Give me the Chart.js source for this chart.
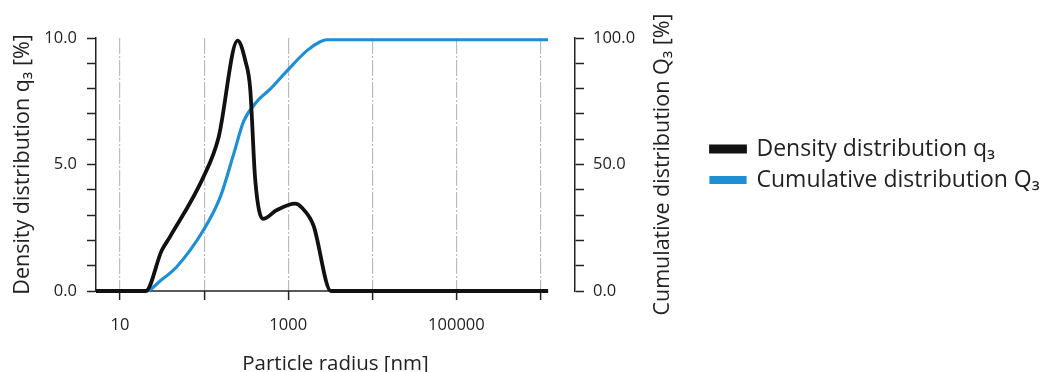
<!DOCTYPE html>
<html>
<head>
<meta charset="utf-8">
<title>Particle size distribution</title>
<script src="https://cdn.jsdelivr.net/npm/chart.js@4.4.1/dist/chart.umd.min.js"></script>
<style>
  html, body { margin: 0; padding: 0; background: #fff; }
  #wrap { width: 1043px; height: 372px; }
</style>
</head>
<body>
<div id="wrap"><canvas id="psd" width="1043" height="372"></canvas></div>
<script>
// particle radius [nm] and density distribution q3 [%]
const densityRadius = [5.18, 20.2, 31.3, 39.4, 98, 148, 250, 309, 353, 405, 500, 733, 1211, 1445, 1992, 3220, 1.23e6];
const densityQ3 = [0, 0, 1.6, 2.15, 4.5, 6.05, 9.9, 9.1, 8.0, 4.4, 2.85, 3.2, 3.45, 3.3, 2.6, 0, 0];

// particle radius [nm] and cumulative distribution Q3 [%]
const cumulativeRadius = [5.18, 20.6, 30, 47.3, 98, 155, 224, 295, 427, 618, 967, 1670, 2400, 2880, 1.23e6];
const cumulativeQ3 = [0, 0, 4, 9.6, 24, 37, 54, 67, 75, 80, 87, 95, 98.5, 99.3, 99.3];

const decadeTicks = [10, 100, 1000, 10000, 100000, 1000000];
const labelledDecades = [10, 1000, 100000];

const FONT = "'Open Sans', 'Noto Sans', sans-serif";
const TEXT = '#222';
const AXIS = '#222';
const TITLE_SIZE = 20.5;
const Y_TITLE_SIZE = 21.5;
const TICK_SIZE = 16.5;
const RIGHT_TITLE = 'Cumulative distribution Q\u2083 [%]';

const toPoints = (xs, ys) => xs.map((x, i) => ({ x, y: ys[i] }));

// x axis line stops at the last measured radius, not at the right axis
const xAxisLine = {
  id: 'xAxisLine',
  beforeDatasetsDraw(chart) {
    const { ctx, chartArea, scales } = chart;
    const xEnd = scales.x.getPixelForValue(densityRadius[densityRadius.length - 1]);
    ctx.save();
    ctx.strokeStyle = AXIS;
    ctx.lineWidth = 1.5;
    ctx.beginPath();
    ctx.moveTo(chartArea.left, chartArea.bottom);
    ctx.lineTo(xEnd, chartArea.bottom);
    ctx.stroke();
    ctx.restore();
  },
};

// right axis title reads bottom-to-top like the left one
const rightTitle = {
  id: 'rightTitle',
  afterDraw(chart) {
    const { ctx, chartArea } = chart;
    ctx.save();
    ctx.translate(chartArea.right + 88, (chartArea.top + chartArea.bottom) / 2);
    ctx.rotate(-Math.PI / 2);
    ctx.fillStyle = TEXT;
    ctx.font = `${Y_TITLE_SIZE}px ${FONT}`;
    ctx.textAlign = 'center';
    ctx.textBaseline = 'middle';
    ctx.fillText(RIGHT_TITLE, 0, 0);
    ctx.restore();
  },
};

// keep the legend centred on the plot height rather than the whole canvas
const legendOnPlot = {
  id: 'legendOnPlot',
  afterLayout(chart) {
    if (chart.legend) {
      chart.legend.top = chart.chartArea.top;
      chart.legend.bottom = chart.chartArea.bottom;
    }
  },
};

const config = {
  type: 'line',
  data: {
    datasets: [
      {
        label: 'Density distribution q\u2083',
        data: toPoints(densityRadius, densityQ3),
        yAxisID: 'y',
        borderColor: '#111',
        backgroundColor: '#111',
        borderWidth: 3.8,
        pointRadius: 0,
        cubicInterpolationMode: 'monotone',
        clip: false,
      },
      {
        label: 'Cumulative distribution Q\u2083',
        data: toPoints(cumulativeRadius, cumulativeQ3),
        yAxisID: 'y2',
        borderColor: '#1e8fd2',
        backgroundColor: '#1e8fd2',
        borderWidth: 3.2,
        pointRadius: 0,
        cubicInterpolationMode: 'monotone',
        clip: false,
      },
    ],
  },
  options: {
    responsive: false,
    animation: false,
    layout: { padding: { top: 38, right: 0, bottom: 0, left: 0 } },
    plugins: {
      tooltip: { enabled: false },
      legend: {
        position: 'right',
        align: 'center',
        maxWidth: 340,
        labels: {
          color: TEXT,
          font: { family: FONT, size: 23 },
          boxWidth: 34,
          boxHeight: 5,
          padding: 8,
        },
      },
    },
    scales: {
      x: {
        type: 'logarithmic',
        min: 5.18,
        max: 2.57e6,
        afterBuildTicks: (scale) => {
          scale.ticks = decadeTicks.map((v) => ({ value: v }));
        },
        afterFit: (scale) => {
          scale.height = 81;
        },
        border: { display: false, dash: [16, 2, 2, 2] },
        grid: {
          color: '#bdbdbd',
          lineWidth: 1.2,
          drawTicks: true,
          tickLength: 9,
          tickColor: AXIS,
          tickWidth: 1.5,
        },
        ticks: {
          autoSkip: false,
          maxRotation: 0,
          padding: 15,
          color: TEXT,
          font: { family: FONT, size: TICK_SIZE },
          callback: (v) => (labelledDecades.includes(v) ? String(v) : ''),
        },
        title: {
          display: true,
          text: 'Particle radius [nm]',
          color: TEXT,
          font: { family: FONT, size: TITLE_SIZE },
          padding: { top: 0, bottom: -4 },
        },
      },
      y: {
        position: 'left',
        min: 0,
        max: 10,
        afterFit: (scale) => {
          scale.width = 96;
        },
        border: { display: true, color: AXIS, width: 1.5 },
        grid: {
          drawOnChartArea: false,
          drawTicks: true,
          tickLength: 9,
          tickColor: AXIS,
          tickWidth: 1.5,
        },
        ticks: {
          stepSize: 1,
          autoSkip: false,
          padding: 10,
          color: TEXT,
          font: { family: FONT, size: TICK_SIZE },
          callback: (v) => (v % 5 === 0 ? v.toFixed(1) : ''),
        },
        title: {
          display: true,
          text: 'Density distribution q\u2083 [%]',
          color: TEXT,
          font: { family: FONT, size: Y_TITLE_SIZE },
          padding: { top: 10, bottom: 0 },
        },
      },
      y2: {
        position: 'right',
        min: 0,
        max: 100,
        afterFit: (scale) => {
          scale.width = 128;
        },
        border: { display: true, color: AXIS, width: 1.5 },
        grid: {
          drawOnChartArea: false,
          drawTicks: true,
          tickLength: 9,
          tickColor: AXIS,
          tickWidth: 1.5,
        },
        ticks: {
          stepSize: 10,
          autoSkip: false,
          padding: 9,
          color: TEXT,
          font: { family: FONT, size: TICK_SIZE },
          callback: (v) => (v % 50 === 0 ? v.toFixed(1) : ''),
        },
      },
    },
  },
  plugins: [xAxisLine, rightTitle, legendOnPlot],
};

new Chart(document.getElementById('psd'), config);
</script>
</body>
</html>
